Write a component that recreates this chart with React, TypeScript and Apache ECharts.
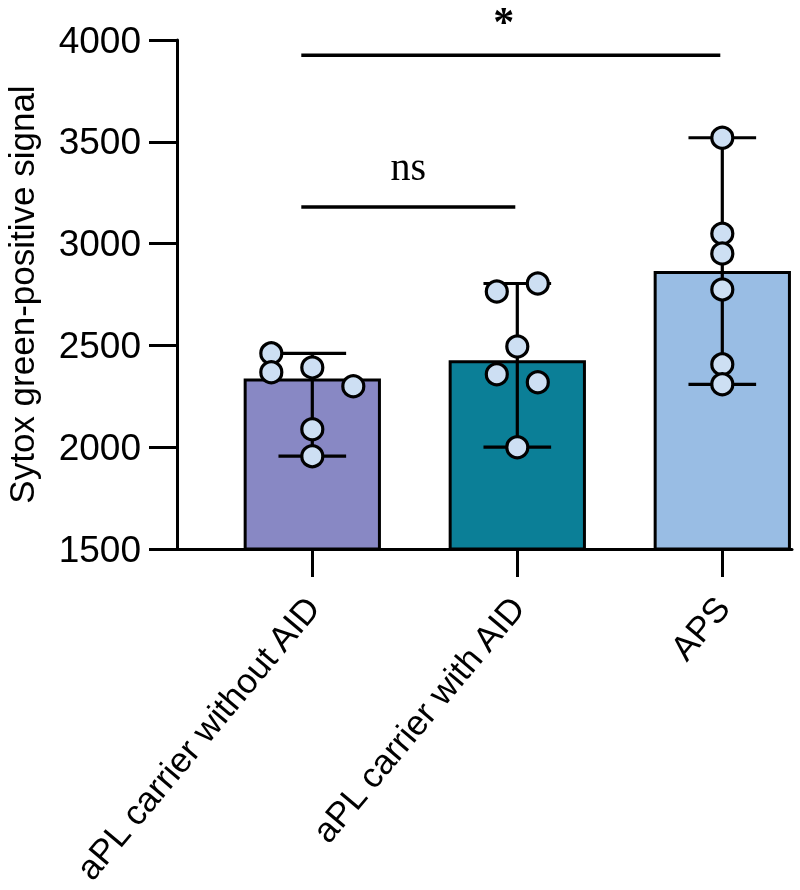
import React, { useEffect, useRef } from "react";
import * as echarts from "echarts";

const categories = ["aPL carrier without AID", "aPL carrier with AID", "APS"];
const barColors = ["#8888c4", "#0b7f97", "#99bde4"];
const medians = [2330, 2420, 2858];
const whiskerLow = [1956, 2000, 2309];
const whiskerHigh = [2461, 2804, 3520];
const group1 = [2461, 2368, 2392, 2299, 2088, 1956];
const group2 = [2765, 2804, 2495, 2358, 2319, 2000];
const group3 = [3520, 3049, 2951, 2775, 2407, 2309];
const jitter1 = [-0.2, -0.2, 0, 0.2, 0, 0];
const jitter2 = [-0.1, 0.1, 0, -0.1, 0.1, 0];
const jitter3 = [0, 0, 0, 0, 0, 0];
const yTicks = [1500, 2000, 2500, 3000, 3500, 4000];
const comparisons = [
  { from: 0, to: 1, y: 3180, label: "ns" },
  { from: 0, to: 2, y: 3925, label: "*" },
];

const SANS = "'Liberation Sans', Arial, Helvetica, sans-serif";
const SERIF = "'Liberation Serif', 'Times New Roman', serif";

export default function App() {
  const ref = useRef<HTMLDivElement>(null);
  useEffect(() => {
    if (!ref.current) return;
    const chart = echarts.init(ref.current, null, { renderer: "svg" });
    const groups = [group1, group2, group3];
    const jitters = [jitter1, jitter2, jitter3];
    const points: number[][] = [];
    groups.forEach((g, gi) => g.forEach((v, i) => points.push([gi + jitters[gi][i], v])));

    chart.setOption({
      animation: false,
      grid: { left: 177, top: 40, right: 8, bottom: 341, containLabel: false, outerBoundsMode: "none" },
      xAxis: {
        type: "value",
        min: -0.66,
        max: 2.34,
        splitLine: { show: false },
        axisLine: { onZero: false, lineStyle: { color: "#000", width: 3 } },
        axisTick: { customValues: [0, 1, 2], length: 28, lineStyle: { color: "#000", width: 3 } },
        axisLabel: {
          customValues: [0, 1, 2],
          formatter: (v: number) => categories[Math.round(v)] ?? "",
          rotate: 50,
          margin: 52,
          color: "#000",
          fontSize: 35,
          fontFamily: SANS,
        },
      },
      yAxis: {
        type: "value",
        min: yTicks[0],
        max: yTicks[yTicks.length - 1],
        interval: 500,
        splitLine: { show: false },
        axisLine: { show: true, onZero: false, lineStyle: { color: "#000", width: 3 } },
        axisTick: { show: true, length: 28, lineStyle: { color: "#000", width: 3 } },
        axisLabel: {
          color: "#000",
          fontSize: 37,
          fontFamily: SANS,
          margin: 36,
          formatter: (v: number) => String(v),
        },
        name: "Sytox green-positive signal",
        nameLocation: "middle",
        nameGap: 138,
        nameTextStyle: { color: "#000", fontSize: 35, fontFamily: SANS },
      },
      series: [
        {
          type: "custom",
          z: 2,
          data: medians.map((m, i) => [i, m]),
          encode: { x: 0, y: 1 },
          renderItem: (params: any, api: any) => {
            const x = api.value(0);
            const top = api.coord([x, api.value(1)]);
            const base = api.coord([x, yTicks[0]]);
            const w = api.size([0.655, 0])[0];
            return {
              type: "rect",
              shape: { x: top[0] - w / 2, y: top[1], width: w, height: base[1] - top[1] },
              style: { fill: barColors[params.dataIndex], stroke: "#000", lineWidth: 3 },
            };
          },
        },
        {
          type: "custom",
          z: 3,
          data: whiskerLow.map((lo, i) => [i, lo, whiskerHigh[i]]),
          encode: { x: 0, y: [1, 2] },
          renderItem: (params: any, api: any) => {
            const x = api.value(0);
            const lo = api.coord([x, api.value(1)]);
            const hi = api.coord([x, api.value(2)]);
            const cw = api.size([0.33, 0])[0] / 2;
            const st = { stroke: "#000", lineWidth: 3.2 };
            return {
              type: "group",
              children: [
                { type: "line", shape: { x1: lo[0], y1: lo[1], x2: hi[0], y2: hi[1] }, style: st },
                { type: "line", shape: { x1: lo[0] - cw, y1: lo[1], x2: lo[0] + cw, y2: lo[1] }, style: st },
                { type: "line", shape: { x1: hi[0] - cw, y1: hi[1], x2: hi[0] + cw, y2: hi[1] }, style: st },
              ],
            };
          },
        },
        {
          type: "scatter",
          z: 4,
          data: points,
          symbol: "circle",
          symbolSize: 21,
          itemStyle: { color: "#cddff3", borderColor: "#000", borderWidth: 3.2, opacity: 1 },
        },
        {
          type: "custom",
          z: 5,
          clip: false,
          data: comparisons.map((c) => [c.from, c.to, c.y]),
          encode: { x: [0, 1], y: 2 },
          renderItem: (params: any, api: any) => {
            const c = comparisons[params.dataIndex];
            const p1 = api.coord([api.value(0), api.value(2)]);
            const p2 = api.coord([api.value(1), api.value(2)]);
            const x1 = p1[0] - 11;
            const x2 = p2[0] - 2;
            const isStar = c.label === "*";
            return {
              type: "group",
              children: [
                { type: "line", shape: { x1, y1: p1[1], x2, y2: p2[1] }, style: { stroke: "#000", lineWidth: 3.5 } },
                {
                  type: "text",
                  x: (x1 + x2) / 2 - (isStar ? 7 : 0),
                  y: isStar ? Math.max(1, p1[1] - 54) : p1[1] - 20,
                  style: {
                    text: c.label,
                    fill: "#000",
                    fontSize: isStar ? 42 : 40,
                    fontWeight: isStar ? "bold" : "normal",
                    fontFamily: SERIF,
                    align: "center",
                    verticalAlign: isStar ? "top" : "bottom",
                  },
                },
              ],
            };
          },
        },
      ],
    });
    return () => chart.dispose();
  }, []);
  return <div ref={ref} style={{ position: "fixed", left: 0, top: 0, width: 800, height: 890 }} />;
}
